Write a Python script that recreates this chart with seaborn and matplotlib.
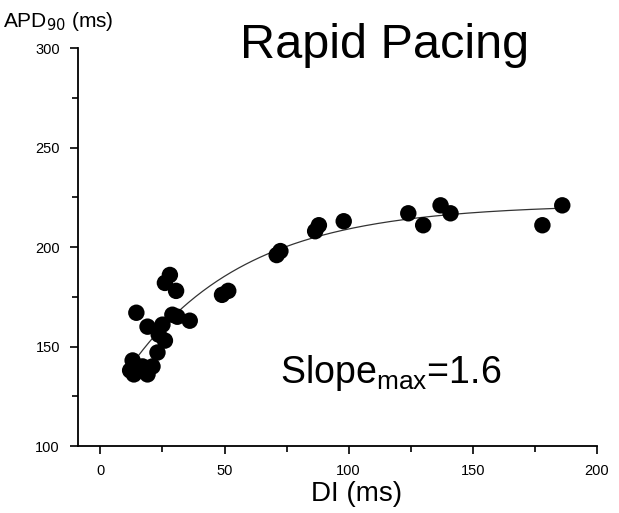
import numpy as np
import matplotlib
matplotlib.use("Agg")
import matplotlib.pyplot as plt
import seaborn as sns
from matplotlib.ticker import MultipleLocator

# diastolic interval (ms) and APD90 (ms)
di = [12, 13, 13.5, 14, 17, 19, 21, 14.5, 19, 23, 23.5, 26, 25, 29, 31, 36,
      26, 28, 30.5, 49, 51.5, 71, 72.5, 86.5, 88, 98, 124, 130, 137, 141, 178, 186]
apd = [138, 143, 136, 140, 140, 136, 140, 167, 160, 147, 156, 153, 161, 166, 165, 163,
       182, 186, 178, 176, 178, 196, 198, 208, 211, 213, 217, 211, 221, 217, 211, 221]

x_ticks = [0, 50, 100, 150, 200]
y_ticks = [100, 150, 200, 250, 300]


def fit_restitution(x, y):
    """mono-exponential fit APD = A - B*exp(-DI/tau), grid search over tau"""
    x = np.asarray(x, float)
    y = np.asarray(y, float)
    best = None
    for tau in np.linspace(10, 150, 1401):
        M = np.column_stack([np.ones_like(x), -np.exp(-x / tau)])
        coef, *_ = np.linalg.lstsq(M, y, rcond=None)
        err = np.sum((M @ coef - y) ** 2)
        if best is None or err < best[0]:
            best = (err, coef[0], coef[1], tau)
    return best[1:]


A, B, tau = fit_restitution(di, apd)
xf = np.linspace(min(di) + 3, max(di), 300)
yf = A - B * np.exp(-xf / tau)

sns.set_style("ticks")
plt.rcParams['font.family'] = ['Liberation Sans', 'DejaVu Sans']
plt.rcParams['text.color'] = 'black'
plt.rcParams['axes.labelcolor'] = 'black'
plt.rcParams['xtick.color'] = 'black'
plt.rcParams['ytick.color'] = 'black'
plt.rcParams['axes.edgecolor'] = 'black'

fig = plt.figure(figsize=(6.19, 5.13), dpi=100)
ax = fig.add_axes([0.126, 0.1306, 0.8385, 0.7754])

sns.lineplot(x=xf, y=yf, ax=ax, color="#333333", lw=0.9)
sns.scatterplot(x=di, y=apd, ax=ax, color="black", s=140, edgecolor="none", zorder=3)

ax.set_xlim(-9, 200)
ax.set_ylim(100, 300)
ax.set_xticks(x_ticks)
ax.set_yticks(y_ticks)
ax.xaxis.set_minor_locator(MultipleLocator(25))
ax.yaxis.set_minor_locator(MultipleLocator(25))
ax.tick_params(which="major", direction="out", length=6, width=1.2, labelsize=10.5, pad=7)
ax.tick_params(which="minor", direction="out", length=4, width=1.2)
sns.despine(ax=ax)
for s in ["left", "bottom"]:
    ax.spines[s].set_linewidth(1.3)

ax.set_xlabel("DI (ms)", fontsize=20)
ax.xaxis.set_label_coords(0.537, -0.088)
ax.set_ylabel("")
fig.text(0.005, 0.947, "APD$_{90}$ (ms)", fontsize=15, ha="left", va="baseline")
fig.text(0.622, 0.887, "Rapid Pacing", fontsize=35, ha="center", va="baseline")
ax.text(117, 131.5, "Slope$_{\\mathregular{max}}$=1.6", fontsize=27, ha="center", va="baseline")

fig.savefig("out.png", dpi=100)
